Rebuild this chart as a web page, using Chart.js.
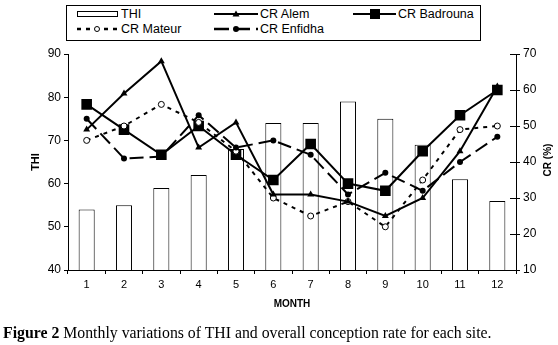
<!DOCTYPE html>
<html>
<head>
<meta charset="utf-8">
<script src="https://cdn.jsdelivr.net/npm/chart.js@4.4.1/dist/chart.umd.min.js"></script>
<style>
html,body{margin:0;padding:0;background:#fff;}
#wrap{position:relative;width:558px;height:345px;overflow:hidden;background:#fff;}
#c{position:absolute;left:0;top:0;}
#legend{position:absolute;left:66px;top:5px;width:413px;height:34px;border:1px solid #000;font:12.5px "Liberation Sans",Arial,sans-serif;color:#000;background:#fff;}
.item{position:absolute;height:14px;display:flex;align-items:center;white-space:nowrap;}
.item svg{display:block;flex:none;}
.item span{margin-left:2px;line-height:14px;}
#y1title{position:absolute;left:518px;top:154px;width:60px;height:12px;line-height:12px;text-align:center;font:bold 10px "Liberation Sans",Arial,sans-serif;color:#000;transform:rotate(-90deg);transform-origin:center center;white-space:nowrap;}
#caption{position:absolute;left:3px;top:324px;font:15.8px "Liberation Serif","Times New Roman",serif;line-height:17px;color:#000;white-space:nowrap;}
</style>
</head>
<body>
<div id="wrap">
<canvas id="c" width="558" height="345"></canvas>
<div id="legend">
  <div class="item" style="left:10px;top:1px;"><svg width="42" height="14"><rect x="0.5" y="4.5" width="40" height="5" fill="#fff" stroke="#000" stroke-width="1"/></svg><span>THI</span></div>
  <div class="item" style="left:147px;top:1px;"><svg width="44" height="14"><line x1="0" y1="7" x2="44" y2="7" stroke="#000" stroke-width="2"/><path d="M22,3.5 L25.5,9.5 L18.5,9.5 Z" fill="#000"/></svg><span>CR Alem</span></div>
  <div class="item" style="left:286px;top:1px;"><svg width="43" height="14"><line x1="0" y1="7" x2="43" y2="7" stroke="#000" stroke-width="2"/><rect x="17" y="2" width="10" height="10" fill="#000"/></svg><span>CR Badrouna</span></div>
  <div class="item" style="left:10px;top:16px;"><svg width="42" height="14"><line x1="0" y1="7" x2="42" y2="7" stroke="#000" stroke-width="2.5" stroke-dasharray="4,5"/><circle cx="20" cy="7" r="2.5" fill="#fff" stroke="#000" stroke-width="1"/></svg><span>CR Mateur</span></div>
  <div class="item" style="left:147px;top:16px;"><svg width="44" height="14"><line x1="0" y1="7" x2="44" y2="7" stroke="#000" stroke-width="2.5" stroke-dasharray="15,6"/><circle cx="22" cy="7" r="3" fill="#000"/></svg><span>CR Enfidha</span></div>
</div>
<div id="y1title">CR (%)</div>
<div id="caption"><b>Figure 2</b> Monthly variations of THI and overall conception rate for each site.</div>
</div>
<script>
// ---- data ----
const months = ['1','2','3','4','5','6','7','8','9','10','11','12'];
const thi        = [54, 55, 59, 62, 68, 74, 74, 79, 75, 69, 61, 56];
const crAlem     = [49, 59, 68, 44, 51, 31, 31, 29, 25, 30, 43, 61];
const crBadrouna = [56, 49, 42, 50, 42, 35, 45, 34, 32, 43, 53, 60];
const crMateur   = [46, 50, 56, 51, 43, 30, 25, 29, 22, 35, 49, 50];
const crEnfidha  = [52, 41, 41.5, 53, 44, 46, 42, 31, 37, 32, 40, 47];
const thiTicks   = [40, 50, 60, 70, 80, 90];
const crTicks    = [10, 20, 30, 40, 50, 60, 70];

const FONT = '"Liberation Sans", Arial, sans-serif';

const innerTicks = {
  id: 'innerTicks',
  afterDraw(chart) {
    const s = chart.scales.y1;
    const ctx = chart.ctx;
    ctx.save();
    ctx.strokeStyle = '#000';
    ctx.lineWidth = 1;
    s.ticks.forEach(t => {
      const y = Math.round(s.getPixelForValue(t.value)) + 0.5;
      ctx.beginPath();
      ctx.moveTo(s.left - 6, y);
      ctx.lineTo(s.left, y);
      ctx.stroke();
    });
    ctx.restore();
  }
};

new Chart(document.getElementById('c'), {
  type: 'bar',
  data: {
    labels: months,
    datasets: [
      { type: 'line', label: 'CR Mateur', data: crMateur, yAxisID: 'y1', borderColor: '#000', borderWidth: 2,
        borderDash: [4, 5], pointStyle: 'circle', pointRadius: 3, pointBackgroundColor: '#fff', pointBorderColor: '#000',
        pointBorderWidth: 1, tension: 0, order: 4 },
      { type: 'line', label: 'CR Enfidha', data: crEnfidha, yAxisID: 'y1', borderColor: '#000', borderWidth: 2,
        borderDash: [14, 6], pointStyle: 'circle', pointRadius: 3, pointBackgroundColor: '#000', pointBorderColor: '#000',
        pointBorderWidth: 0, tension: 0, order: 3 },
      { type: 'line', label: 'CR Alem', data: crAlem, yAxisID: 'y1', borderColor: '#000', borderWidth: 2,
        pointStyle: 'triangle', pointRadius: 4, pointBackgroundColor: '#000', pointBorderColor: '#000',
        pointBorderWidth: 0, tension: 0, order: 2 },
      { type: 'line', label: 'CR Badrouna', data: crBadrouna, yAxisID: 'y1', borderColor: '#000', borderWidth: 2,
        pointStyle: 'rect', pointRadius: 7.5, pointBackgroundColor: '#000', pointBorderColor: '#000',
        pointBorderWidth: 0, tension: 0, order: 5 },
      { type: 'bar', label: 'THI', data: thi, yAxisID: 'y', backgroundColor: '#fff', borderColor: '#000',
        borderWidth: 1, barPercentage: 0.43, categoryPercentage: 1, order: 10 }
    ]
  },
  options: {
    responsive: false,
    animation: false,
    events: [],
    layout: { padding: { left: 25, right: 0, top: 54, bottom: 31 } },
    plugins: { legend: { display: false }, tooltip: { enabled: false } },
    scales: {
      x: {
        offset: true,
        grid: { display: true, drawOnChartArea: false, drawTicks: true, tickLength: 4, color: '#000', offset: true },
        border: { display: true, color: '#000', width: 1 },
        ticks: { color: '#000', font: { family: FONT, size: 11 }, padding: 4, maxRotation: 0, autoSkip: false },
        title: { display: true, text: 'MONTH', color: '#000', font: { family: FONT, size: 10, weight: 'bold' }, padding: { top: 4, bottom: 4 } },
        afterFit(s) { s.height = 44; }
      },
      y: {
        position: 'left', min: 40, max: 90,
        afterBuildTicks(s) { s.ticks = thiTicks.map(v => ({ value: v })); },
        grid: { display: true, drawOnChartArea: false, drawTicks: true, tickLength: 4, color: '#000' },
        border: { display: true, color: '#000', width: 1 },
        ticks: { color: '#000', font: { family: FONT, size: 12 }, padding: 3 },
        title: { display: true, text: 'THI', color: '#000', font: { family: FONT, size: 11, weight: 'bold' }, padding: { top: 4, bottom: 4 } },
        afterFit(s) { s.width = 43; }
      },
      y1: {
        position: 'right', min: 10, max: 70,
        afterBuildTicks(s) { s.ticks = crTicks.map(v => ({ value: v })); },
        grid: { display: true, drawOnChartArea: false, drawTicks: true, tickLength: 4, color: '#000' },
        border: { display: true, color: '#000', width: 1 },
        ticks: { color: '#000', font: { family: FONT, size: 12 }, padding: 3 },
        afterFit(s) { s.width = 42; }
      }
    }
  },
  plugins: [innerTicks]
});
</script>
</body>
</html>
